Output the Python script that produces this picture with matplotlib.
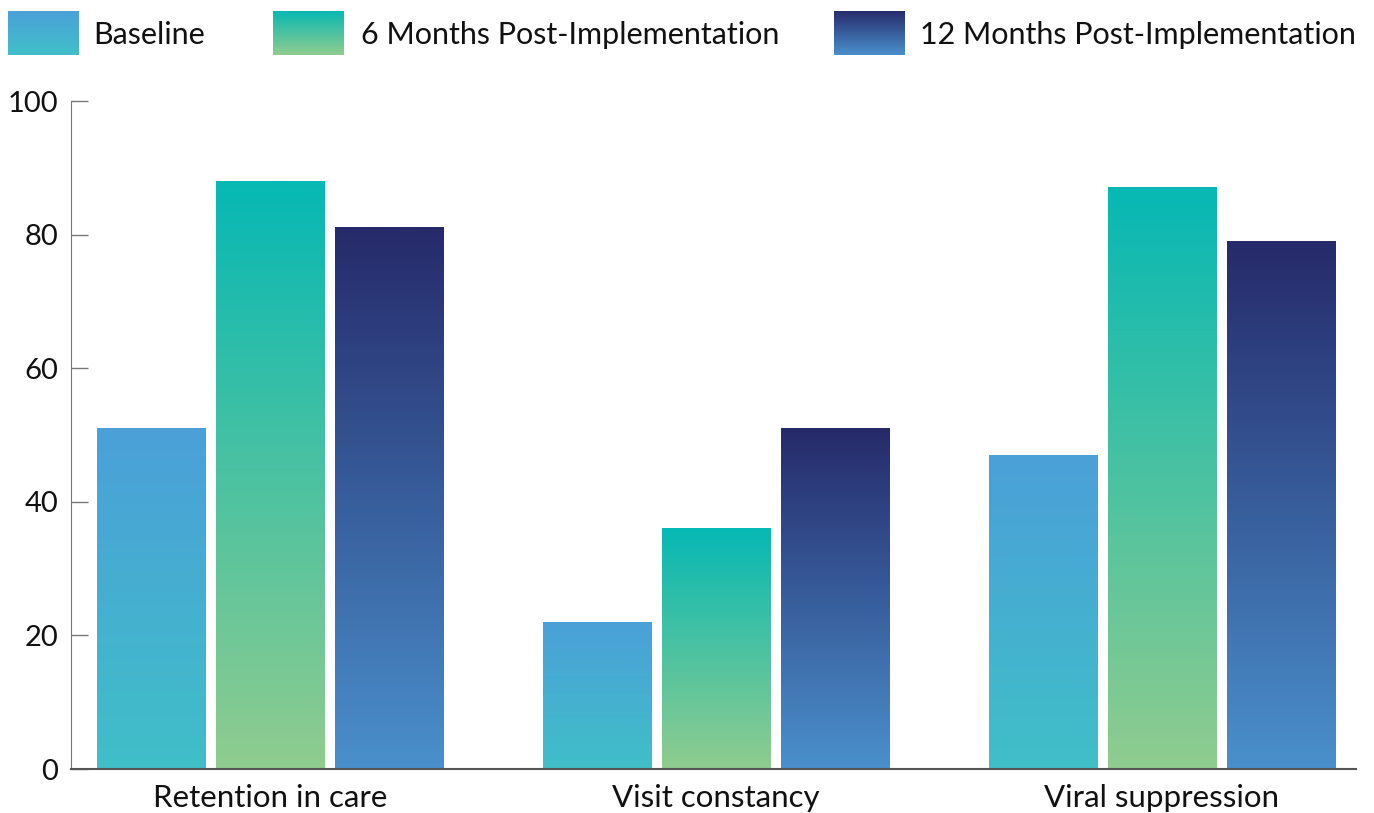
import numpy as np
import matplotlib
matplotlib.use("Agg")
import matplotlib.pyplot as plt
from matplotlib.colors import LinearSegmentedColormap

categories = ["Retention in care", "Visit constancy", "Viral suppression"]
series_names = ["Baseline", "6 Months Post-Implementation", "12 Months Post-Implementation"]
baseline = [51, 22, 47]
six_months = [88, 36, 87]
twelve_months = [81, 51, 79]
yticks = [0, 20, 40, 60, 80, 100]

# gradient colours (top, bottom) for each series
grads = [("#4ba0d8", "#40bfc8"), ("#06b8b4", "#90cc8f"), ("#262a6a", "#4a90cc")]

plt.rcParams["font.family"] = ["Lato", "DejaVu Sans"]

fig = plt.figure(figsize=(13.74, 8.13), dpi=100)
ax = fig.add_axes([71/1374, 1-769/813, (1356-71)/1374, (769-101)/813])

x = np.arange(len(categories))
width = 108/446
step = 119/446
grad = np.linspace(0, 1, 256).reshape(-1, 1)

for i, vals in enumerate([baseline, six_months, twelve_months]):
    cmap = LinearSegmentedColormap.from_list("g%d" % i, [grads[i][0], grads[i][1]])
    bars = ax.bar(x + (i-1)*step, vals, width, color="none", edgecolor="none")
    for b in bars:
        ax.imshow(grad, cmap=cmap, aspect="auto", interpolation="bilinear",
                  extent=[b.get_x(), b.get_x()+b.get_width(), 0, b.get_height()], zorder=2)

ax.set_xlim(-0.446, 2.435)
ax.set_ylim(0, 100)
ax.set_yticks(yticks)
ax.set_xticks(x)
ax.set_xticklabels(categories)
ax.tick_params(axis="y", direction="in", length=12, width=1, color="#777777",
               labelsize=21, pad=9, labelcolor="#111111")
ax.tick_params(axis="x", length=0, labelsize=22.5, pad=11, labelcolor="#111111")
ax.spines["top"].set_visible(False)
ax.spines["right"].set_visible(False)
ax.spines["left"].set_color("#777777")
ax.spines["bottom"].set_color("#555555")
ax.spines["bottom"].set_linewidth(1.5)

# legend with gradient swatches
leg_patch_x = [8, 273, 834]
leg_text_x = [93, 361, 920]
for i, name in enumerate(series_names):
    cmap = LinearSegmentedColormap.from_list("l%d" % i, [grads[i][0], grads[i][1]])
    lax = fig.add_axes([leg_patch_x[i]/1374, 1-55/813, 71/1374, 44/813])
    lax.imshow(grad, cmap=cmap, aspect="auto", interpolation="bilinear")
    lax.axis("off")
    fig.text(leg_text_x[i]/1374, 1-35/813, name, fontsize=22, va="center", ha="left", color="#111111")

fig.savefig("out.png", dpi=100)
